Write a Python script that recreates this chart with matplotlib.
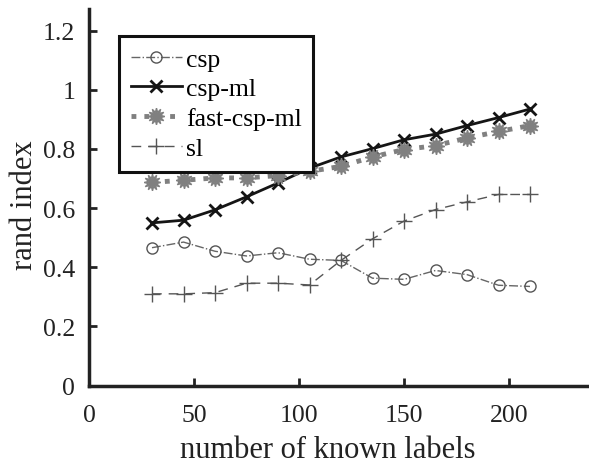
import matplotlib
matplotlib.use("Agg")
import matplotlib.pyplot as plt

x = [30, 45, 60, 75, 90, 105, 120, 135, 150, 165, 180, 195, 210]
csp = [0.466, 0.485, 0.454, 0.438, 0.449, 0.427, 0.423, 0.363, 0.359, 0.389, 0.375, 0.339, 0.335]
csp_ml = [0.550, 0.559, 0.594, 0.638, 0.685, 0.735, 0.773, 0.801, 0.831, 0.850, 0.879, 0.906, 0.935]
fast_csp_ml = [0.687, 0.694, 0.702, 0.702, 0.710, 0.724, 0.741, 0.773, 0.798, 0.811, 0.837, 0.859, 0.879]
sl = [0.310, 0.310, 0.314, 0.346, 0.346, 0.340, 0.423, 0.496, 0.556, 0.595, 0.621, 0.646, 0.646]

xticks = [0, 50, 100, 150, 200]
yticks = [0, 0.2, 0.4, 0.6, 0.8, 1.0, 1.2]
yticklabels = ["0", "0.2", "0.4", "0.6", "0.8", "1", "1.2"]

plt.rcParams['font.family'] = ['Liberation Serif', 'DejaVu Serif']

W, H = 589, 464
fig = plt.figure(figsize=(W / 100, H / 100), dpi=100)
left, bottom, top = 89 / W, (H - 386.5) / H, (H - 10) / H
xmax = 240
width = (xmax * 2.1) / W
ax = fig.add_axes([left, bottom, width, top - bottom])

ax.plot(x, csp, linestyle='-.', color='#666666', lw=1.0, marker='o', markersize=8,
        markerfacecolor='none', markeredgecolor='#555555', markeredgewidth=1.0, label='csp')
ax.plot(x, csp_ml, linestyle='-', color='#151515', lw=2.0, marker='x', markersize=9,
        markeredgewidth=2.0, label='csp-ml')
ax.plot(x, fast_csp_ml, linestyle=':', color='#808080', lw=3.5, marker=(12, 1, 0), markersize=12,
        markerfacecolor='#808080', markeredgecolor='#808080', markeredgewidth=1.0, label='fast-csp-ml')
ax.plot(x, sl, linestyle=(0, (7, 5)), color='#555555', lw=1.0, marker='+', markersize=12,
        markeredgewidth=1.0, label='sl')

ax.set_xlim(0, xmax)
ax.set_ylim(0, (386.5 - 10) / 295.7)
ax.set_xticks(xticks)
ax.set_yticks(yticks)
ax.set_yticklabels(yticklabels)
for s in ['top', 'right']:
    ax.spines[s].set_visible(False)
for s in ['left', 'bottom']:
    ax.spines[s].set_linewidth(2.5)
    ax.spines[s].set_color('#222222')
ax.tick_params(direction='in', length=6, width=2.0, color='#222222', labelsize=18.5,
               labelcolor='#222222')
ax.tick_params(axis='x', pad=13)
ax.tick_params(axis='y', pad=10)
ax.set_xlabel('number of known labels', fontsize=22, color='#222222')
ax.set_ylabel('rand index', fontsize=22, color='#222222')
ax.xaxis.set_label_coords(0.474, -0.132)
ax.yaxis.set_label_coords(-0.10, 0.482)

leg = ax.legend(loc='upper left', bbox_to_anchor=(119 / W, 1 - 37 / H), bbox_transform=fig.transFigure,
                borderaxespad=0, fontsize=18.5, frameon=True, fancybox=False, handlelength=2.0,
                handletextpad=0.15, labelspacing=0.27, borderpad=0.45)
fr = leg.get_frame()
fr.set_edgecolor('#111111')
fr.set_linewidth(2.2)
fr.set_facecolor('white')
fr.set_alpha(1)

fig.savefig('out.png', dpi=100)
